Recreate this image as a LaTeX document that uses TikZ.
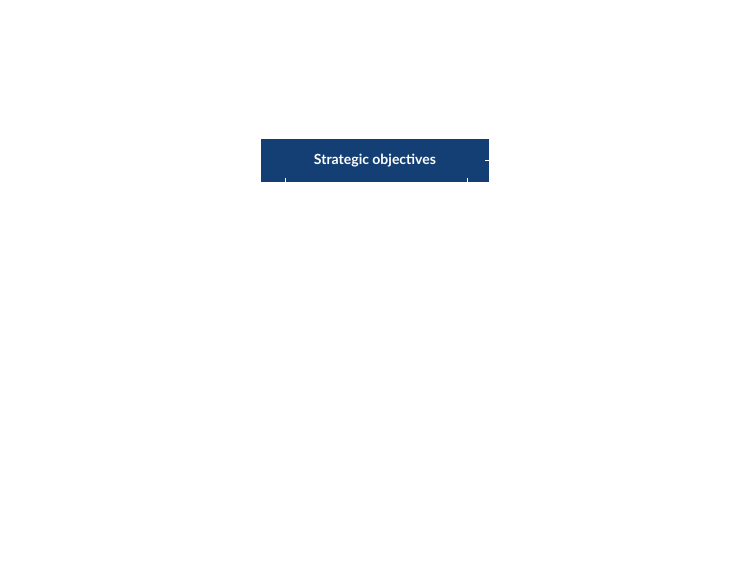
\documentclass[tikz,border=0pt]{standalone}
\usepackage{fontspec}
\setmainfont{Lato}
\definecolor{boxblue}{HTML}{143F74}
\begin{document}
\begin{tikzpicture}[x=1pt,y=-1pt,
  box/.style={fill=boxblue,text=white,font=\bfseries\fontsize{14}{16}\selectfont,minimum width=228pt,minimum height=43pt,inner sep=0pt},
  tick/.style={draw=white,line width=0.8pt}]
\useasboundingbox (0,0) rectangle (750,588);
\node[box] (so) at (375,160.5) {Strategic objectives};
\coordinate (t1) at (285,178);
\coordinate (t2) at (467,178);
\coordinate (t3) at (485,160);
\draw[tick] (t1) -- (t1 |- so.south);
\draw[tick] (t2) -- (t2 |- so.south);
\draw[tick] (t3) -- (t3 -| so.east);
\end{tikzpicture}
\end{document}
